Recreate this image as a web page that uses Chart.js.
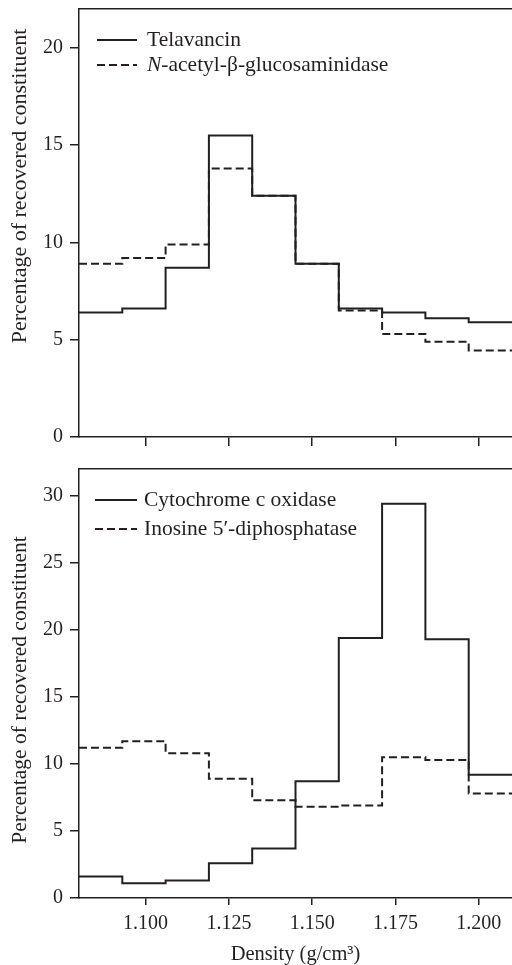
<!DOCTYPE html>
<html><head><meta charset="utf-8">
<script src="https://cdn.jsdelivr.net/npm/chart.js@4/dist/chart.umd.min.js"></script>
<style>
html,body{margin:0;padding:0;background:#fff;overflow:hidden;}
#wrap{width:512px;height:965px;position:relative;}
.box{position:absolute;left:0;width:512px;}
</style></head><body>
<div id="wrap">
<div class="box" style="top:0;height:460px"><canvas id="c1"></canvas></div>
<div class="box" style="top:460px;height:505px"><canvas id="c2"></canvas></div>
</div>
<script>
// ---- data ----
const binEdges = [1.080,1.093,1.106,1.119,1.132,1.145,1.158,1.171,1.184,1.197,1.210];
const telavancin = [6.4,6.6,8.7,15.5,12.4,8.9,6.6,6.4,6.1,5.9];
const nag = [8.9,9.2,9.9,13.8,12.4,8.9,6.5,5.3,4.9,4.45];
const cytochrome = [1.6,1.1,1.3,2.6,3.7,8.7,19.4,29.4,19.3,9.2];
const inosine = [11.2,11.7,10.8,8.9,7.3,6.8,6.9,10.5,10.3,7.8];
const xTickValues = [1.100,1.125,1.150,1.175,1.200];
const yTicksTop = [0,5,10,15,20];
const yTicksBottom = [0,5,10,15,20,25,30];
const seriesTop = ['Telavancin','N-acetyl-β-glucosaminidase'];
const seriesBottom = ['Cytochrome c oxidase','Inosine 5′-diphosphatase'];
const yTitleText = 'Percentage of recovered constituent';
const xTitleText = 'Density (g/cm³)';

const ink = '#231f20';
const FONT = '"Liberation Serif", "Times New Roman", serif';

function steps(vals){
  return binEdges.map((x,i)=>({x:x, y:vals[Math.min(i, vals.length-1)]}));
}

const inlineLegend = {
  id:'inlineLegend',
  afterDatasetsDraw(chart, args, o){
    const {ctx, chartArea} = chart;
    chart.data.datasets.forEach((ds,i)=>{
      const y = chartArea.top + o.top + i*o.spacing;
      const x0 = chartArea.left + o.left;
      ctx.save();
      ctx.strokeStyle = ds.borderColor; ctx.lineWidth = ds.borderWidth;
      ctx.setLineDash(ds.borderDash || []);
      ctx.beginPath(); ctx.moveTo(x0, y); ctx.lineTo(x0 + o.length, y); ctx.stroke();
      ctx.setLineDash([]);
      ctx.fillStyle = ink; ctx.textBaseline = 'middle'; ctx.textAlign = 'left';
      let tx = x0 + o.length + o.gap;
      let label = ds.label;
      if (ds.italicPrefix && label.startsWith(ds.italicPrefix)) {
        ctx.font = 'italic ' + o.size + 'px ' + FONT;
        ctx.fillText(ds.italicPrefix, tx, y);
        tx += ctx.measureText(ds.italicPrefix).width;
        label = label.slice(ds.italicPrefix.length);
      }
      ctx.font = o.size + 'px ' + FONT;
      ctx.fillText(label, tx, y);
      ctx.restore();
    });
  }
};
const sideTitle = {
  id:'sideTitle',
  afterDraw(chart, args, o){
    const {ctx, chartArea} = chart;
    ctx.save();
    ctx.translate(o.x, chartArea.top + o.offset);
    ctx.rotate(-Math.PI/2);
    ctx.font = o.size + 'px ' + FONT; ctx.fillStyle = ink;
    ctx.textAlign = 'center'; ctx.textBaseline = 'middle';
    ctx.fillText(o.text, 0, 0);
    ctx.restore();
  }
};

function makeChart(id, names, a, b, yMax, yTicks, isBottom, legendOpts, titleOffset, titleSize){
  const xScale = {
    type:'linear', position:'bottom', min:1.08, max:1.21,
    afterBuildTicks: s => { s.ticks = xTickValues.map(v=>({value:v})); },
    afterFit: s => { s.height = isBottom ? 67 : 23; s.paddingLeft = 0; s.paddingRight = 0; },
    grid:{display:true, drawOnChartArea:false, drawTicks:true, tickLength: isBottom ? 7 : 9, color:ink, lineWidth:1.5},
    border:{display:true, color:ink, width:1.5},
    ticks:{display:isBottom, color:ink, font:{family:FONT, size:20}, padding:7, maxRotation:0,
      callback: v => Number(v).toFixed(3)},
    title:{display:isBottom, text:xTitleText, color:ink, font:{family:FONT, size:20.5, lineHeight:1}, padding:{top:0,bottom:0}}
  };
  return new Chart(document.getElementById(id), {
    type:'line',
    data:{datasets:[
      {label:names[0], data:steps(a), stepped:'before', borderColor:ink, borderWidth:2, pointRadius:0, fill:false},
      {label:names[1], data:steps(b), stepped:'before', borderColor:ink, borderWidth:2, borderDash:[8,4], pointRadius:0, fill:false,
       italicPrefix: names[1].startsWith('N-') ? 'N' : null}
    ]},
    options:{
      responsive:true, maintainAspectRatio:false, animation:false,
      layout:{padding:{top:9,left:0,right:0,bottom:0}},
      plugins:{legend:{display:false}, tooltip:{enabled:false},
        inlineLegend:legendOpts,
        sideTitle:{text:yTitleText, x:20, offset:titleOffset, size:titleSize}},
      scales:{
        x:xScale,
        xTop:{type:'linear', position:'top', min:1.08, max:1.21,
          grid:{display:false}, border:{display:true, color:ink, width:1.5}, ticks:{display:false},
          afterFit: s => { s.height = 0; s.paddingLeft = 0; s.paddingRight = 0; }},
        y:{type:'linear', min:0, max:yMax,
          afterBuildTicks: s => { s.ticks = yTicks.map(v=>({value:v})); },
          afterFit: s => { s.width = 79; s.paddingTop = 0; s.paddingBottom = 0; },
          grid:{display:true, drawOnChartArea:false, drawTicks:true, tickLength:9, color:ink, lineWidth:1.5},
          border:{display:true, color:ink, width:1.5},
          ticks:{color:ink, font:{family:FONT, size:20}, padding:7},
          title:{display:false}}
      }
    },
    plugins:[inlineLegend, sideTitle]
  });
}

makeChart('c1', seriesTop, telavancin, nag, 22, yTicksTop, false,
  {top:31, spacing:25, left:18, length:40, gap:10, size:21.5}, 177, 22);
makeChart('c2', seriesBottom, cytochrome, inosine, 32, yTicksBottom, true,
  {top:31, spacing:29, left:16, length:42, gap:7, size:21.5}, 221, 21.5);
</script>
</body></html>
